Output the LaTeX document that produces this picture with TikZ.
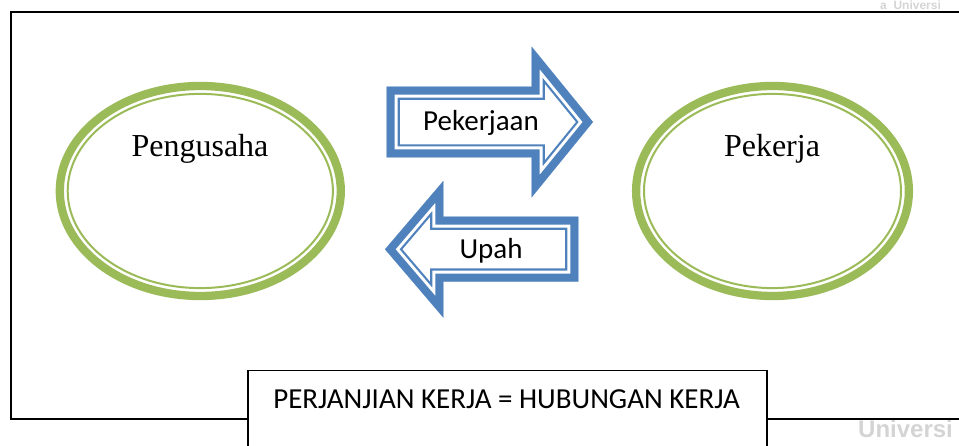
\documentclass[tikz,border=0pt]{standalone}
\usepackage{fontspec}
\setmainfont{Liberation Serif}
\newfontfamily\calibri{Carlito}
\newfontfamily\wmfont{Liberation Sans}
\definecolor{ogreen}{RGB}{155,187,89}
\definecolor{oblue}{RGB}{79,129,189}
\definecolor{wmgray}{RGB}{212,212,212}
\tikzset{
  serif/.style={font=\fontsize{32}{38}\selectfont, anchor=base, inner sep=0pt},
  cal/.style={font=\calibri\fontsize{29}{35}\selectfont, anchor=base, inner sep=0pt},
  wm/.style={font=\wmfont\bfseries\fontsize{24}{28}\selectfont, text=wmgray, anchor=base west, inner sep=0pt},
  wmsmall/.style={font=\wmfont\bfseries\fontsize{12}{14}\selectfont, text=wmgray, anchor=base west, inner sep=0pt},
  thickring/.style={draw=ogreen, line width=8.3pt},
  thinring/.style={draw=ogreen, line width=2pt},
  arrR/.style={insert path={(386.7,86.7) -- (531.7,86.7) -- (531.7,46.7) -- (593,122) -- (531.7,197.3) -- (531.7,157.5) -- (386.7,157.5) -- cycle}},
  arrL/.style={insert path={(385,249.3) -- (443.3,181) -- (443.3,216.7) -- (578.3,216.7) -- (578.3,281.7) -- (443.3,281.7) -- (443.3,317.6) -- cycle}},
}
\newcommand\bluearrow[1]{%
  \fill[white,#1];
  \begin{scope}
    \clip[#1];
    \draw[oblue, line width=26.4pt, line join=miter, #1];
    \draw[white, line width=22pt, line join=miter, #1];
    \draw[oblue, line width=16pt, line join=miter, #1];
  \end{scope}}
\begin{document}
\begin{tikzpicture}[x=1pt,y=-1pt]
\useasboundingbox (0,0) rectangle (959,446);
% faint watermark
\node[wmsmall] (wmtop) at (880,9.5) {a\ \ Universi};
\node[wm] (wmbot) at (858,437) {Universi};
% outer frame
\draw[line width=1.8pt] (11.3,11.7) rectangle (975,419);
% ellipses
\coordinate (Lc) at (200.3,191);
\coordinate (Rc) at (772.5,191);
\draw[thickring] (Lc) ellipse [x radius=140.5, y radius=105];
\draw[thinring] (Lc) ellipse [x radius=132.6, y radius=97.1];
\draw[thickring] (Rc) ellipse [x radius=136.4, y radius=105];
\draw[thinring] (Rc) ellipse [x radius=128.5, y radius=97.1];
\node[serif] (pengusaha) at (200,157) {Pengusaha};
\node[serif] (pekerja) at (772,157) {Pekerja};
% arrows
\bluearrow{arrR}
\bluearrow{arrL}
\node[cal] (pekerjaan) at (481,130.7) {Pekerjaan};
\node[cal] (upah) at (491,259) {Upah};
% bottom box
\node[draw, line width=1.3pt, fill=white, anchor=north west, inner sep=0pt,
      minimum width=519pt, minimum height=90pt] (box) at (247.3,370) {};
\node[cal] (ket) at (506.5,409) {PERJANJIAN KERJA = HUBUNGAN KERJA};
\end{tikzpicture}
\end{document}
